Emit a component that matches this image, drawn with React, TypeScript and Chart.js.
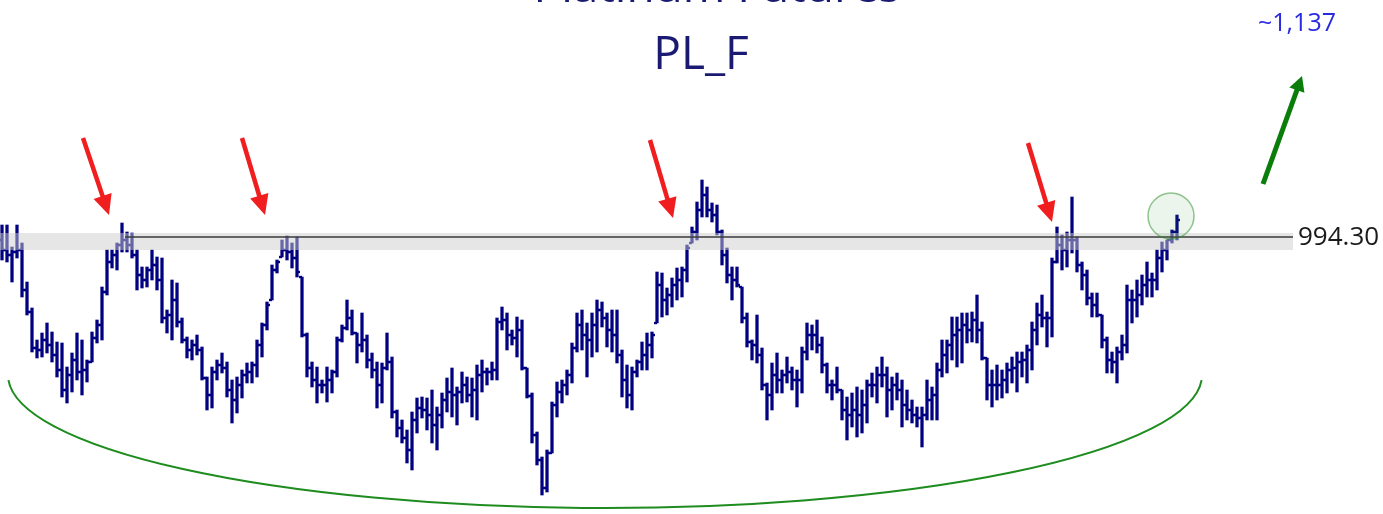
import React, { useEffect, useRef } from 'react';
import { Chart, registerables } from 'chart.js';

Chart.register(...registerables);

// ---- Data ----
const HIGH = [
  1000.3, 1000.3, 989.3, 1000.3, 991.3, 971.8, 958.8, 942.8, 946.3, 951.3,
  946.8, 941.8, 941.3, 929.3, 936.3, 946.3, 942.8, 932.8, 946.8, 952.8,
  969.3, 987.8, 987.8, 991.3, 1001.3, 996.8, 996.3, 987.8, 979.3, 979.3,
  987.8, 984.3, 983.8, 957.8, 972.8, 971.3, 953.8, 944.3, 942.8, 945.3,
  939.3, 924.3, 929.3, 932.8, 936.3, 931.8, 922.8, 924.3, 927.8, 931.3,
  931.8, 942.8, 951.3, 961.8, 980.3, 982.8, 992.8, 994.8, 991.3, 994.3,
  974.3, 946.3, 931.8, 929.3, 922.8, 929.3, 927.8, 944.3, 950.3, 962.8,
  957.8, 946.3, 956.3, 945.3, 936.3, 931.8, 931.3, 946.3, 934.3, 907.8,
  902.8, 897.8, 906.8, 913.8, 914.3, 913.8, 917.8, 909.3, 916.3, 923.8,
  928.8, 919.3, 926.8, 924.3, 923.8, 930.3, 932.8, 928.8, 931.8, 953.8,
  959.3, 956.3, 947.8, 954.3, 952.8, 928.8, 916.3, 896.8, 884.3, 887.8,
  911.8, 921.8, 922.8, 927.8, 941.3, 956.3, 957.8, 951.3, 956.3, 962.8,
  961.8, 956.3, 957.8, 957.8, 937.8, 930.3, 929.3, 932.8, 941.8, 946.3,
  946.8, 976.8, 976.3, 968.8, 973.8, 978.8, 979.3, 990.3, 999.3, 1011.8,
  1022.8, 1019.3, 1011.3, 1010.3, 997.8, 988.8, 979.3, 979.3, 969.3, 956.3,
  942.8, 955.3, 938.8, 921.3, 931.3, 936.3, 927.8, 934.3, 929.3, 927.8,
  939.3, 951.3, 950.3, 952.8, 944.3, 931.3, 922.8, 929.3, 917.8, 914.3,
  916.3, 919.3, 917.8, 922.8, 926.3, 929.3, 934.3, 929.3, 924.3, 926.3,
  922.8, 917.8, 912.8, 909.3, 909.3, 922.8, 919.3, 931.3, 942.8, 942.8,
  954.3, 954.3, 956.3, 956.3, 956.8, 965.3, 951.8, 933.8, 927.8, 930.3,
  927.8, 931.3, 934.3, 936.8, 936.8, 940.3, 951.8, 961.3, 965.3, 956.8,
  983.8, 999.3, 995.3, 996.8, 1014.3, 994.3, 981.8, 977.8, 966.3, 966.3,
  955.3, 944.3, 936.8, 939.3, 945.3, 970.3, 967.8, 972.8, 975.3, 981.8,
  976.3, 987.8, 991.8, 992.8, 997.8, 1005.3,
];

const LOW = [
  982.8, 981.8, 971.8, 983.8, 964.3, 955.3, 936.8, 933.8, 934.3, 936.3,
  931.8, 924.3, 914.3, 911.3, 916.8, 922.8, 915.3, 921.8, 931.8, 941.3,
  942.8, 965.3, 978.8, 977.8, 986.8, 986.8, 983.8, 967.8, 968.8, 969.3,
  972.8, 967.8, 951.3, 946.3, 942.8, 949.3, 941.3, 933.8, 932.8, 935.3,
  922.8, 907.8, 908.8, 922.8, 926.3, 914.3, 901.3, 906.3, 913.8, 921.3,
  921.3, 924.3, 934.3, 947.8, 962.8, 976.3, 984.3, 982.8, 978.8, 974.3,
  944.3, 924.3, 919.3, 911.3, 916.3, 911.8, 916.3, 924.3, 941.8, 947.8,
  945.3, 931.3, 936.8, 928.8, 923.8, 908.8, 911.3, 927.8, 903.8, 894.3,
  891.3, 881.3, 877.8, 896.3, 903.8, 897.8, 891.3, 887.8, 898.8, 906.8,
  904.3, 900.3, 911.3, 911.8, 904.3, 902.8, 916.8, 920.3, 922.8, 922.8,
  947.8, 937.8, 940.3, 934.3, 927.8, 913.8, 891.3, 880.3, 865.3, 866.8,
  886.3, 904.3, 911.3, 915.3, 921.3, 936.8, 937.8, 924.3, 934.3, 936.8,
  949.3, 939.3, 936.8, 931.3, 914.3, 908.8, 907.8, 924.3, 927.8, 927.8,
  933.8, 951.3, 954.3, 955.3, 959.3, 962.8, 964.3, 971.8, 991.3, 992.8,
  1004.3, 1004.3, 1001.8, 995.3, 980.3, 971.3, 962.8, 969.3, 951.3, 939.3,
  932.8, 931.3, 917.8, 902.8, 907.8, 916.3, 916.3, 921.3, 917.8, 909.3,
  916.3, 932.8, 937.8, 936.3, 926.3, 916.3, 912.8, 916.3, 902.8, 892.8,
  899.3, 894.3, 896.3, 901.3, 914.3, 911.3, 919.3, 904.3, 907.8, 912.8,
  899.3, 902.8, 901.3, 899.3, 889.3, 902.8, 902.8, 902.8, 924.3, 926.3,
  932.8, 929.3, 931.3, 941.3, 941.8, 941.3, 932.8, 912.8, 909.3, 912.8,
  913.8, 916.3, 921.3, 916.8, 924.3, 921.3, 927.8, 940.3, 949.3, 939.3,
  944.3, 981.3, 977.8, 979.3, 986.3, 976.8, 967.8, 960.3, 954.3, 954.3,
  938.8, 926.3, 926.3, 921.3, 932.8, 936.3, 951.3, 954.3, 960.3, 964.3,
  964.3, 967.8, 976.8, 982.8, 991.3, 992.8,
];

const OPEN = [
  992.8, 987.8, 985.3, 986.8, 987.8, 967.8, 956.8, 938.8, 937.8, 942.8,
  940.3, 935.3, 927.8, 917.8, 925.3, 932.8, 926.8, 927.8, 931.8, 943.8,
  950.3, 966.8, 981.8, 985.3, 990.3, 992.8, 990.3, 985.3, 975.3, 972.8,
  977.8, 980.3, 972.8, 953.8, 955.3, 962.8, 951.8, 942.8, 937.8, 940.3,
  937.8, 923.8, 915.3, 926.8, 930.3, 928.8, 917.8, 912.8, 920.3, 925.3,
  926.8, 930.3, 940.3, 950.3, 962.8, 977.8, 984.3, 987.8, 986.8, 983.8,
  974.3, 945.3, 928.8, 922.8, 920.3, 920.3, 922.8, 926.8, 942.8, 948.8,
  953.8, 946.3, 940.3, 942.8, 932.8, 927.8, 920.3, 928.8, 931.8, 906.8,
  898.8, 893.8, 887.8, 902.8, 908.8, 907.8, 905.3, 900.3, 905.3, 912.8,
  916.8, 915.3, 916.8, 920.3, 915.3, 917.8, 925.3, 926.8, 926.8, 927.8,
  951.8, 952.8, 945.3, 943.8, 947.8, 928.8, 914.8, 895.3, 882.8, 868.8,
  886.3, 910.3, 916.8, 920.3, 925.3, 938.8, 950.3, 945.3, 942.8, 950.3,
  957.8, 953.8, 947.8, 945.3, 935.3, 922.8, 915.3, 926.8, 931.8, 935.3,
  940.3, 951.3, 970.3, 962.8, 965.3, 970.3, 972.8, 977.8, 991.3, 996.8,
  1007.8, 1015.3, 1007.8, 1005.3, 996.8, 985.3, 975.3, 972.8, 969.3, 953.8,
  941.8, 940.3, 935.3, 920.3, 915.3, 925.3, 922.8, 925.3, 926.8, 922.8,
  922.8, 936.8, 945.3, 945.3, 940.3, 930.3, 920.3, 920.3, 917.8, 907.8,
  905.3, 907.8, 905.3, 910.3, 920.3, 920.3, 925.3, 925.3, 917.8, 920.3,
  917.8, 910.3, 907.8, 905.3, 903.8, 905.3, 912.8, 915.3, 927.8, 935.3,
  940.3, 945.3, 947.8, 950.3, 947.8, 952.8, 947.8, 933.8, 920.3, 920.3,
  920.3, 922.8, 927.8, 928.8, 931.8, 932.8, 937.8, 947.8, 955.3, 953.8,
  953.8, 981.8, 990.3, 987.8, 992.8, 992.8, 980.3, 975.3, 963.8, 960.3,
  955.3, 942.8, 932.8, 931.8, 936.8, 940.3, 962.8, 962.8, 965.3, 970.3,
  972.8, 972.8, 983.8, 987.8, 992.8, 996.8,
];

const CLOSE = [
  987.8, 985.3, 986.8, 987.8, 967.8, 956.8, 938.8, 937.8, 942.8, 940.3,
  935.3, 927.8, 917.8, 925.3, 932.8, 926.8, 927.8, 931.8, 943.8, 950.3,
  966.8, 981.8, 985.3, 990.3, 992.8, 990.3, 985.3, 975.3, 972.8, 977.8,
  980.3, 972.8, 953.8, 955.3, 962.8, 951.8, 942.8, 937.8, 940.3, 937.8,
  923.8, 915.3, 926.8, 930.3, 928.8, 917.8, 912.8, 920.3, 925.3, 926.8,
  930.3, 940.3, 950.3, 960.3, 977.8, 981.8, 987.8, 986.8, 983.8, 976.8,
  945.3, 928.8, 922.8, 920.3, 920.3, 922.8, 926.8, 942.8, 948.8, 953.8,
  946.3, 940.3, 942.8, 932.8, 927.8, 920.3, 928.8, 931.8, 906.8, 898.8,
  893.8, 887.8, 902.8, 908.8, 907.8, 905.3, 900.3, 905.3, 912.8, 916.8,
  915.3, 916.8, 920.3, 915.3, 917.8, 925.3, 926.8, 926.8, 927.8, 951.8,
  952.8, 945.3, 943.8, 947.8, 928.8, 914.8, 895.3, 882.8, 868.8, 886.3,
  910.3, 916.8, 920.3, 925.3, 938.8, 950.3, 945.3, 942.8, 950.3, 957.8,
  953.8, 947.8, 945.3, 935.3, 922.8, 915.3, 926.8, 931.8, 935.3, 940.3,
  945.3, 970.3, 962.8, 965.3, 970.3, 972.8, 977.8, 988.8, 996.8, 1007.8,
  1015.3, 1007.8, 1005.3, 996.8, 985.3, 975.3, 972.8, 970.3, 953.8, 941.8,
  940.3, 935.3, 920.3, 915.3, 925.3, 922.8, 925.3, 926.8, 922.8, 922.8,
  936.8, 945.3, 945.3, 940.3, 930.3, 920.3, 920.3, 917.8, 907.8, 905.3,
  907.8, 905.3, 910.3, 920.3, 920.3, 925.3, 925.3, 917.8, 920.3, 917.8,
  910.3, 907.8, 905.3, 903.8, 905.3, 912.8, 915.3, 927.8, 935.3, 940.3,
  945.3, 947.8, 950.3, 947.8, 952.8, 947.8, 933.8, 920.3, 920.3, 920.3,
  922.8, 927.8, 928.8, 931.8, 932.8, 937.8, 947.8, 955.3, 953.8, 953.8,
  981.8, 990.3, 987.8, 992.8, 992.8, 980.3, 975.3, 963.8, 960.3, 955.3,
  942.8, 932.8, 931.8, 936.8, 940.3, 962.8, 962.8, 965.3, 970.3, 972.8,
  972.8, 983.8, 987.8, 992.8, 996.8, 1002.8,
];

const TITLE = 'PL_F';
const SUPER_TITLE = 'Platinum Futures';
const RESISTANCE = 994.3;
const RESISTANCE_LABEL = '994.30';
const BAND = [987.8, 996.3];
const TARGET_LABEL = '~1,137';

// annotation geometry in data units (bar index, price)
const LINE_FROM = 24.6;
const LINE_TO = 258.2;
const RED_ARROWS = [
  [16.2, 1043.8, 21.4, 1005.3],
  [48.0, 1043.8, 52.6, 1005.3],
  [129.6, 1042.8, 134.2, 1003.8],
  [205.2, 1041.3, 210.0, 1001.8],
];
const GREEN_ARROW = [252.2, 1020.8, 260.0, 1074.8];
const CIRCLE = [233.8, 1004.8];
const CUP = { cx: 120.6, cy: 925.3, rx: 119.4, ry: 66.5 };

const X_MIN = -0.4;
const X_MAX = 276.2;
const Y_MIN = 855.8;
const Y_MAX = 1112.8;

const NAVY = '#000080';
const FONT = '"Open Sans", "Noto Sans", sans-serif';

function drawArrow(ctx: CanvasRenderingContext2D, x1: number, y1: number, x2: number, y2: number,
  color: string, lw: number, hl: number, hw: number) {
  const a = Math.atan2(y2 - y1, x2 - x1);
  const bx = x2 - Math.cos(a) * hl;
  const by = y2 - Math.sin(a) * hl;
  ctx.strokeStyle = color;
  ctx.lineWidth = lw;
  ctx.lineCap = 'butt';
  ctx.beginPath();
  ctx.moveTo(x1, y1);
  ctx.lineTo(bx + Math.cos(a) * 2, by + Math.sin(a) * 2);
  ctx.stroke();
  ctx.fillStyle = color;
  ctx.beginPath();
  ctx.moveTo(x2, y2);
  ctx.lineTo(bx + Math.sin(a) * hw / 2, by - Math.cos(a) * hw / 2);
  ctx.lineTo(bx - Math.sin(a) * hw / 2, by + Math.cos(a) * hw / 2);
  ctx.closePath();
  ctx.fill();
}

const overlay = {
  id: 'overlay',
  afterDatasetsDraw(chart: any) {
    const { ctx, scales } = chart;
    const x = scales.x;
    const y = scales.y;
    const px = (v: number) => x.getPixelForValue(v);
    const py = (v: number) => y.getPixelForValue(v);
    ctx.save();

    // grey band
    ctx.fillStyle = 'rgba(205,205,205,0.5)';
    const bTop = py(BAND[1]);
    const bBot = py(BAND[0]);
    ctx.fillRect(px(X_MIN), bTop, px(LINE_TO) - px(X_MIN), bBot - bTop);

    // resistance line
    ctx.strokeStyle = '#3a3a3a';
    ctx.lineWidth = 1.5;
    ctx.beginPath();
    ctx.moveTo(px(LINE_FROM), py(RESISTANCE));
    ctx.lineTo(px(LINE_TO), py(RESISTANCE));
    ctx.stroke();

    ctx.fillStyle = '#1a1a1a';
    ctx.font = `26px ${FONT}`;
    ctx.textAlign = 'left';
    ctx.textBaseline = 'middle';
    ctx.fillText(RESISTANCE_LABEL, px(LINE_TO) + 5, py(RESISTANCE) + 1);

    // cup arc
    ctx.strokeStyle = '#1e8c1e';
    ctx.lineWidth = 2;
    ctx.beginPath();
    const cx = px(CUP.cx);
    const cy = py(CUP.cy);
    const rx = px(CUP.cx + CUP.rx) - cx;
    const ry = py(CUP.cy - CUP.ry) - cy;
    ctx.ellipse(cx, cy, rx, ry, 0, 0.038, Math.PI - 0.038);
    ctx.stroke();

    // red arrows
    RED_ARROWS.forEach(([a, b, c, d]) => {
      drawArrow(ctx, px(a), py(b), px(c), py(d), '#f01e1e', 4.5, 20, 19);
    });

    // green arrow
    drawArrow(ctx, px(GREEN_ARROW[0]), py(GREEN_ARROW[1]), px(GREEN_ARROW[2]), py(GREEN_ARROW[3]),
      '#0a7d0a', 5, 15, 16);

    // breakout circle
    ctx.beginPath();
    ctx.arc(px(CIRCLE[0]), py(CIRCLE[1]), 23, 0, Math.PI * 2);
    ctx.fillStyle = 'rgba(60,160,60,0.10)';
    ctx.fill();
    ctx.strokeStyle = 'rgba(40,140,40,0.5)';
    ctx.lineWidth = 1.5;
    ctx.stroke();

    // texts
    ctx.textAlign = 'center';
    ctx.textBaseline = 'alphabetic';
    ctx.fillStyle = '#2a2ae0';
    ctx.font = `25px ${FONT}`;
    ctx.fillText(TARGET_LABEL, 1297, 31);

    ctx.fillStyle = '#1a1a72';
    ctx.font = `46px ${FONT}`;
    ctx.fillText(TITLE, 701, 69);

    ctx.font = `46px ${FONT}`;
    ctx.fillText(SUPER_TITLE, 717, 2);

    ctx.restore();
  },
};

export default function App() {
  const ref = useRef<HTMLCanvasElement | null>(null);
  useEffect(() => {
    if (!ref.current) return;
    const chart = new Chart(ref.current, {
      type: 'bar',
      data: {
        datasets: [
          {
            type: 'bar',
            data: HIGH.map((h, i) => ({ x: i, y: [LOW[i], h] })) as any,
            backgroundColor: NAVY,
            borderWidth: 0,
            barThickness: 2.6,
            order: 3,
          } as any,
          {
            type: 'scatter',
            data: OPEN.map((v, i) => ({ x: i, y: v })),
            pointStyle: 'dash',
            pointRotation: 180,
            pointRadius: 3,
            pointBorderWidth: 2.4,
            pointBorderColor: NAVY,
            pointBackgroundColor: NAVY,
            showLine: false,
            order: 2,
          } as any,
          {
            type: 'scatter',
            data: CLOSE.map((v, i) => ({ x: i, y: v })),
            pointStyle: 'dash',
            pointRotation: 0,
            pointRadius: 3,
            pointBorderWidth: 2.4,
            pointBorderColor: NAVY,
            pointBackgroundColor: NAVY,
            showLine: false,
            order: 1,
          } as any,
        ],
      },
      options: {
        animation: false,
        responsive: false,
        events: [],
        layout: { padding: 0, autoPadding: false },
        plugins: {
          legend: { display: false },
          tooltip: { enabled: false },
          title: { display: false },
        },
        scales: {
          x: { type: 'linear', display: false, min: X_MIN, max: X_MAX, offset: false },
          y: { type: 'linear', display: false, min: Y_MIN, max: Y_MAX },
        },
      } as any,
      plugins: [overlay],
    });
    return () => chart.destroy();
  }, []);

  return (
    <div style={{ position: 'fixed', left: 0, top: 0, width: 1383, height: 514, background: '#fff' }}>
      <canvas ref={ref} width={1383} height={514} style={{ display: 'block', width: 1383, height: 514 }} />
    </div>
  );
}
